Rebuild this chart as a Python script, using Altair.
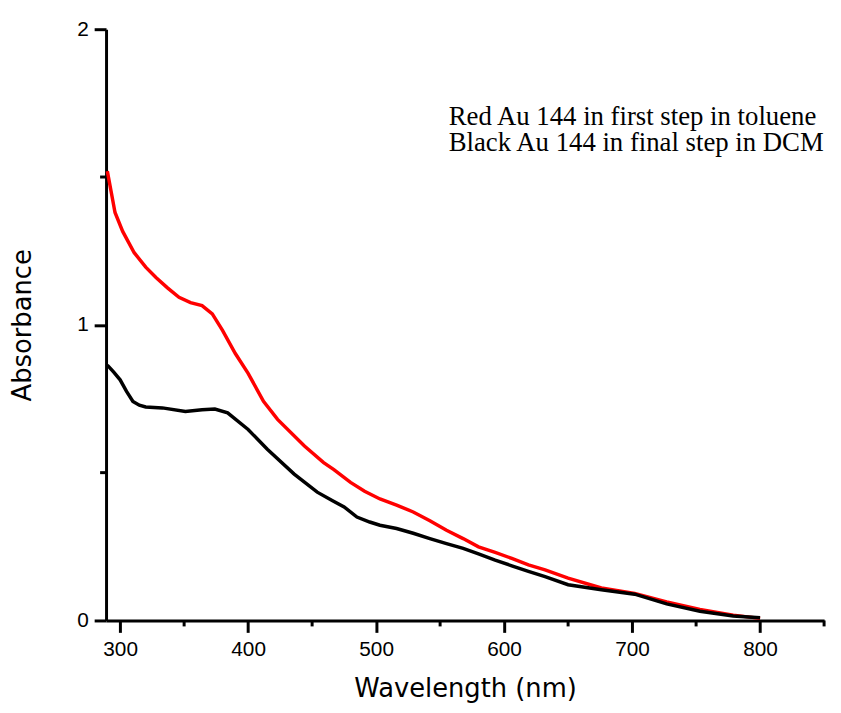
import altair as alt
import pandas as pd

# Red: Au 144 in first step in toluene
red_nm = [290, 293, 296, 302, 311, 320, 328, 337, 346, 355, 364, 372, 380, 390, 400,
          412, 423, 444, 459, 467, 480, 491, 503, 516, 529, 542, 555, 568, 580, 593,
          606, 619, 632, 650, 676, 702, 727, 753, 779, 800]
red_abs = [1.52, 1.45, 1.38, 1.316, 1.244, 1.195, 1.160, 1.125, 1.093, 1.075, 1.065, 1.037, 0.981, 0.903, 0.836,
           0.741, 0.680, 0.590, 0.534, 0.510, 0.467, 0.437, 0.411, 0.390, 0.367, 0.337, 0.305, 0.277, 0.249, 0.230,
           0.210, 0.188, 0.171, 0.143, 0.110, 0.091, 0.063, 0.037, 0.018, 0.007]

# Black: Au 144 in final step in DCM
black_nm = [290, 295, 300, 305, 310, 315, 320, 333, 351, 364, 374, 384, 400, 415, 436,
            454, 466, 475, 485, 495, 503, 516, 529, 542, 555, 568, 580, 593, 606, 619,
            632, 650, 676, 702, 727, 753, 779, 800]
black_abs = [0.864, 0.840, 0.814, 0.775, 0.741, 0.728, 0.722, 0.719, 0.707, 0.713, 0.715, 0.702, 0.646, 0.579, 0.495,
             0.434, 0.405, 0.384, 0.350, 0.333, 0.322, 0.311, 0.295, 0.277, 0.260, 0.244, 0.225, 0.204, 0.185, 0.166,
             0.148, 0.121, 0.104, 0.089, 0.056, 0.031, 0.015, 0.009]

x_major = [300, 400, 500, 600, 700, 800]
x_minor = [350, 450, 550, 650, 750, 850]
y_major = [0, 1, 2]
y_minor = [0.5, 1.5]

legend_line1 = "Red Au 144 in first step in toluene"
legend_line2 = "Black Au 144 in final step in DCM"

W, H = 725, 597

df = pd.concat([
    pd.DataFrame({"nm": red_nm, "A": red_abs, "series": "red"}),
    pd.DataFrame({"nm": black_nm, "A": black_abs, "series": "black"}),
])

xs = alt.Scale(domain=[289, 850], nice=False, zero=False)
ys = alt.Scale(domain=[0, 2], nice=False, zero=True)

x_axis = alt.Axis(values=x_major, format=".0f", title="Wavelength (nm)", tickCount=20, tickMinStep=0.1,
                  titlePadding=17, tickSize=12, labelOverlap=False)
y_axis = alt.Axis(values=y_major, format=".0f", title="Absorbance", tickCount=20, tickMinStep=0.1,
                  titlePadding=42, tickSize=12, labelOverlap=False)

lines = alt.Chart(df).mark_line(strokeWidth=3.5).encode(
    x=alt.X("nm:Q", scale=xs, axis=x_axis, title="Wavelength (nm)"),
    y=alt.Y("A:Q", scale=ys, axis=y_axis, title="Absorbance"),
    color=alt.Color("series:N", scale=alt.Scale(domain=["black", "red"], range=["#000000", "#ff0000"]),
                    legend=None),
    order=alt.Order("nm:Q"),
)

minor_x = alt.Chart(pd.DataFrame({"nm": x_minor})).mark_rule(color="black", strokeWidth=3).encode(
    x=alt.X("nm:Q", scale=xs, axis=x_axis, title="Wavelength (nm)"),
    y=alt.value(H), y2=alt.value(H + 6),
)
minor_y = alt.Chart(pd.DataFrame({"A": y_minor})).mark_rule(color="black", strokeWidth=3).encode(
    y=alt.Y("A:Q", scale=ys, axis=y_axis, title="Absorbance"),
    x=alt.value(-6), x2=alt.value(0),
)

def legend_text(txt, ypix):
    return alt.Chart(pd.DataFrame({"t": [txt]})).mark_text(
        align="left", baseline="alphabetic", font="Liberation Serif", fontSize=27, color="black"
    ).encode(text="t:N", x=alt.value(346), y=alt.value(ypix))

chart = alt.layer(
    lines, minor_x, minor_y, legend_text(legend_line1, 97), legend_text(legend_line2, 123)
).properties(
    width=W, height=H,
    autosize=alt.AutoSizeParams(type="none"),
    padding={"left": 99, "top": 18, "right": 9, "bottom": 88},
).configure_view(stroke=None).configure_axis(
    grid=False,
    domainColor="black", domainWidth=3,
    tickColor="black", tickWidth=3,
    labelFont="Liberation Sans", labelFontSize=21, labelColor="black", labelPadding=6,
    titleFont="DejaVu Sans", titleFontSize=26, titleFontWeight="normal", titleColor="black",
)

chart.save("out.html", embed_options={"renderer": "svg", "actions": False})
